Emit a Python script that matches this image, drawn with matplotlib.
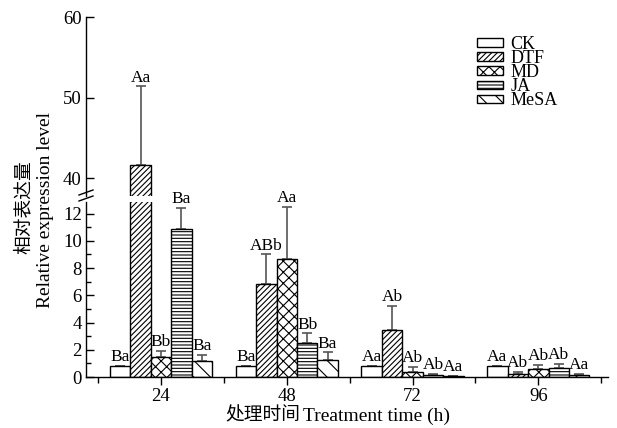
import numpy as np
import matplotlib
matplotlib.use("Agg")
import matplotlib.pyplot as plt
from matplotlib.lines import Line2D

plt.rcParams['font.family'] = ['Liberation Serif', 'Noto Sans CJK SC']
plt.rcParams['hatch.linewidth'] = 0.8

# data: mean relative expression and top of error bar per treatment
times = [24, 48, 72, 96]
treatments = ["CK", "DTF", "MD", "JA", "MeSA"]
ck = [0.8, 0.8, 0.8, 0.8]
dtf = [41.6, 6.8, 3.45, 0.2]
md = [1.5, 8.7, 0.35, 0.62]
ja = [10.85, 2.5, 0.15, 0.65]
mesa = [1.15, 1.25, 0.05, 0.17]
ck_top = [0.8, 0.8, 0.8, 0.8]
dtf_top = [51.4, 9.0, 5.2, 0.38]
md_top = [1.9, 12.5, 0.75, 0.9]
ja_top = [12.4, 3.2, 0.22, 0.98]
mesa_top = [1.65, 1.8, 0.08, 0.25]
sig_ck = ["Ba", "Ba", "Aa", "Aa"]
sig_dtf = ["Aa", "ABb", "Ab", "Ab"]
sig_md = ["Bb", "Aa", "Ab", "Ab"]
sig_ja = ["Ba", "Bb", "Ab", "Ab"]
sig_mesa = ["Ba", "Ba", "Aa", "Aa"]

values = [ck, dtf, md, ja, mesa]
tops = [ck_top, dtf_top, md_top, ja_top, mesa_top]
sigs = [sig_ck, sig_dtf, sig_md, sig_ja, sig_mesa]
hatches = ["", "//////", "xxx", "-----", "\\\\"]

W, H = 617, 428
fig = plt.figure(figsize=(W / 100, H / 100), dpi=100)
x0, x1 = 86 / W, 608 / W
ax_top = fig.add_axes([x0, (H - 196) / H, x1 - x0, (196 - 17) / H])
ax_bot = fig.add_axes([x0, (H - 377) / H, x1 - x0, (377 - 202) / H])

bw = 3.9
x = np.array(times, dtype=float)
for ax in (ax_top, ax_bot):
    for i, name in enumerate(treatments):
        xs = x + (i - 2) * bw
        vals = np.array(values[i])
        err = np.array(tops[i]) - vals
        ax.errorbar(xs, vals, yerr=[np.zeros_like(err), err], fmt='none',
                    ecolor='#555555', elinewidth=1.2, capsize=3.5,
                    capthick=1.2, zorder=1)
        ax.bar(xs, vals, width=bw, facecolor='white', edgecolor='black',
               linewidth=1.0, hatch=hatches[i], label=name, zorder=2)
        for xi, t, s in zip(xs, tops[i], sigs[i]):
            target = ax_top if t > 20 else ax_bot
            if target is ax:
                ax.annotate(s, (xi, t), xytext=(0, 0.5), textcoords='offset points',
                            ha='center', va='bottom', fontsize=12.5)
    ax.set_xlim(9.7, 109.3)

ax_top.set_ylim(37.8, 60)
ax_bot.set_ylim(0, 12.85)

for s in ("top", "right", "bottom"):
    ax_top.spines[s].set_visible(False)
for s in ("top", "right"):
    ax_bot.spines[s].set_visible(False)
ax_top.set_xticks([])
ax_top.set_yticks([40, 50, 60])
ax_bot.set_yticks(range(0, 13, 2))
ax_bot.set_yticks(range(1, 13, 2), minor=True)
ax_bot.set_xticks(times)
ax_bot.set_xticks([12, 36, 60, 84, 108], minor=True)
for ax in (ax_top, ax_bot):
    ax.spines['left'].set_linewidth(1.0)
    ax.tick_params(axis='y', direction='in', length=6, width=1.0, labelsize=13.5, pad=3)
    ax.tick_params(axis='y', which='minor', direction='in', length=3.5, width=1.0)
ax_bot.spines['bottom'].set_linewidth(1.0)
ax_bot.tick_params(axis='x', direction='out', length=6, width=1.0, labelsize=13.5, pad=2)
ax_bot.tick_params(axis='x', which='minor', direction='out', length=4, width=1.0)

# break marks on the y axis
for yy in (192.5, 198.5):
    fig.add_artist(Line2D([79 / W, 93 / W], [(H - yy - 2.5) / H, (H - yy + 2.5) / H],
                          color='black', lw=1.0))

# axis titles: Chinese and English parts set separately
fig.text(300 / W, 1 - 416 / H, "处理时间", ha='right', va='center', fontsize=13.5)
fig.text(303 / W, 1 - 416 / H, "Treatment time (h)", ha='left', va='center',
         fontsize=14)
fig.text(24 / W, 1 - 207 / H, "相对表达量", rotation=90, ha='center', va='center',
         fontsize=13.5)
fig.text(46 / W, 1 - 210 / H, "Relative expression level", rotation=90,
         ha='center', va='center', fontsize=14)

handles, labels = ax_bot.get_legend_handles_labels()
fig.legend(handles, labels, loc='upper left', bbox_to_anchor=(477 / W, 1 - 36 / H),
           frameon=False, fontsize=13, handlelength=1.45, handleheight=0.35,
           labelspacing=-0.16, handletextpad=0.4, borderpad=0, borderaxespad=0)

fig.savefig("out.png", dpi=100)
